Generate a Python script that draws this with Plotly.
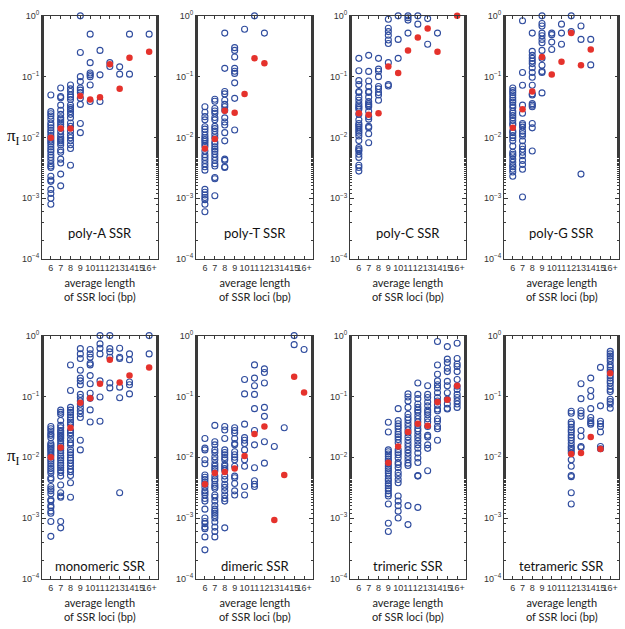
import plotly.graph_objects as go

# ---------------- data (pi values per average length category; 16 = "16+") ----------------
CATEGORIES = [6, 7, 8, 9, 10, 11, 12, 13, 14, 15, 16]
TICK_LABELS = ["6", "7", "8", "9", "10", "11", "12", "13", "14", "15", "16+"]
Y_TICKS = [1e-4, 1e-3, 1e-2, 1e-1, 1]
Y_TICK_LABELS = ["10<sup>−4</sup>", "10<sup>−3</sup>", "10<sup>−2</sup>", "10<sup>−1</sup>", "10<sup>0</sup>"]
PANEL_NAMES = ["poly-A SSR", "poly-T SSR", "poly-C SSR", "poly-G SSR",
               "monomeric SSR", "dimeric SSR", "trimeric SSR", "tetrameric SSR"]

POLY_A = {
    6: [0.05, 0.0266, 0.0245, 0.0226, 0.02, 0.0173, 0.0159, 0.0144, 0.013, 0.0119, 0.0108, 0.0099, 0.0091,
        0.0084, 0.0078, 0.007, 0.0063, 0.0058, 0.0052, 0.0047, 0.0042, 0.0037, 0.0034, 0.0032, 0.0023, 0.002,
        0.0019, 0.0014, 0.0012, 0.001, 0.0008],
    7: [0.065, 0.047, 0.045, 0.034, 0.028, 0.024, 0.021, 0.0195, 0.018, 0.0165, 0.015, 0.0127, 0.0112, 0.0101,
        0.0094, 0.0088, 0.0082, 0.0075, 0.0062, 0.0057, 0.0044, 0.0038, 0.0025, 0.0016],
    8: [0.073, 0.063, 0.057, 0.05, 0.046, 0.042, 0.034, 0.031, 0.029, 0.0266, 0.024, 0.021, 0.0173, 0.0152,
        0.0127, 0.011, 0.0099, 0.0088, 0.0076, 0.0066, 0.0035],
    9: [1.0, 0.25, 0.1, 0.083, 0.065, 0.06, 0.055, 0.044, 0.035, 0.017, 0.012],
    10: [0.5, 0.17, 0.115, 0.107, 0.1, 0.073, 0.039],
    11: [0.27, 0.107, 0.039],
    12: [0.17, 0.147],
    13: [0.145, 0.11],
    14: [0.5, 0.11],
    16: [0.5],
}
POLY_A_MEAN = {6: 0.0099, 7: 0.014, 8: 0.014, 9: 0.048, 10: 0.042, 11: 0.046, 12: 0.16, 13: 0.063, 14: 0.205, 16: 0.256}

POLY_T = {
    6: [0.032, 0.026, 0.022, 0.0195, 0.015, 0.0137, 0.0123, 0.0109, 0.0099, 0.0092, 0.0086, 0.0079, 0.0072,
        0.006, 0.0052, 0.0047, 0.0042, 0.0037, 0.0033, 0.0029, 0.0014, 0.00126, 0.00113, 0.00103, 0.00095,
        0.0008, 0.0006],
    7: [0.0426, 0.0395, 0.03, 0.0272, 0.025, 0.0213, 0.0195, 0.0152, 0.014, 0.0127, 0.0112, 0.0099, 0.0084,
        0.0078, 0.007, 0.0064, 0.0059, 0.0053, 0.0047, 0.0042, 0.0037, 0.0034, 0.0022, 0.0021, 0.0011],
    8: [0.52, 0.137, 0.057, 0.052, 0.041, 0.035, 0.032, 0.028, 0.021, 0.018, 0.016, 0.012, 0.0088, 0.0044,
        0.0042, 0.0033, 0.0032],
    9: [0.3, 0.27, 0.21, 0.137, 0.123, 0.113, 0.079, 0.044, 0.0133],
    10: [0.6],
    11: [1.0],
    12: [0.52],
}
POLY_T_MEAN = {6: 0.0066, 7: 0.0094, 8: 0.0276, 9: 0.0256, 10: 0.052, 11: 0.2, 12: 0.166}

POLY_C = {
    6: [0.2, 0.125, 0.086, 0.074, 0.057, 0.055, 0.046, 0.041, 0.036, 0.033, 0.031, 0.029, 0.024, 0.0195,
        0.017, 0.0159, 0.0148, 0.0137, 0.0127, 0.0117, 0.0106, 0.0089, 0.0068, 0.0063, 0.006, 0.0053, 0.0047,
        0.0035, 0.0032, 0.0028],
    7: [0.224, 0.122, 0.085, 0.069, 0.057, 0.055, 0.046, 0.039, 0.036, 0.034, 0.032, 0.027, 0.022, 0.02,
        0.0152, 0.0145, 0.0115, 0.0082],
    8: [0.2, 0.133, 0.123, 0.1, 0.069, 0.063, 0.055, 0.05, 0.041],
    9: [0.88, 0.625, 0.55, 0.48, 0.4, 0.35, 0.17, 0.074, 0.07],
    10: [1.0, 0.41, 0.2],
    11: [1.0, 0.93, 0.85, 0.52],
    12: [1.0, 0.73],
    13: [0.9, 0.34],
    14: [0.52],
}
POLY_C_MEAN = {6: 0.025, 7: 0.0237, 8: 0.025, 9: 0.147, 10: 0.115, 11: 0.27, 12: 0.44, 13: 0.62, 14: 0.256, 16: 1.0}

POLY_G = {
    6: [0.065, 0.059, 0.055, 0.05, 0.045, 0.041, 0.038, 0.034, 0.031, 0.027, 0.025, 0.023, 0.021, 0.019,
        0.017, 0.016, 0.0127, 0.012, 0.0108, 0.0099, 0.0088, 0.0072, 0.0057, 0.0053, 0.005, 0.0044, 0.0039,
        0.0035, 0.0033, 0.003, 0.0027, 0.0023],
    7: [0.83, 0.117, 0.072, 0.034, 0.025, 0.017, 0.016, 0.0148, 0.0127, 0.0115, 0.0106, 0.0088, 0.0072,
        0.0064, 0.0057, 0.005, 0.0042, 0.0036, 0.003, 0.00105],
    8: [0.52, 0.26, 0.224, 0.2, 0.18, 0.164, 0.14, 0.117, 0.098, 0.072, 0.052, 0.05, 0.036, 0.034, 0.032,
        0.017, 0.0144, 0.006],
    9: [1.0, 0.75, 0.68, 0.52, 0.47, 0.41, 0.36, 0.27, 0.2, 0.154, 0.122, 0.117, 0.054],
    10: [0.52, 0.49, 0.37, 0.28],
    11: [0.73, 0.52, 0.34],
    12: [1.0, 0.55],
    13: [0.68, 0.41, 0.0025],
    14: [0.41, 0.156],
}
POLY_G_MEAN = {6: 0.0144, 7: 0.029, 8: 0.057, 9: 0.21, 10: 0.108, 11: 0.175, 12: 0.52, 13: 0.154, 14: 0.28}

MONOMERIC = {
    6: [0.032, 0.0294, 0.027, 0.0243, 0.0229, 0.021, 0.0168, 0.0159, 0.015, 0.0141, 0.0132, 0.0123, 0.0113,
        0.0105, 0.0093, 0.0086, 0.0078, 0.0071, 0.0065, 0.006, 0.0055, 0.0046, 0.0043, 0.0033, 0.003, 0.0028,
        0.0025, 0.002, 0.0019, 0.0016, 0.0015, 0.0013, 0.0012, 0.00088, 0.0005],
    7: [0.0595, 0.0547, 0.051, 0.0401, 0.0334, 0.0305, 0.0276, 0.026, 0.0243, 0.0229, 0.0216, 0.0203, 0.0186,
        0.0168, 0.0153, 0.0141, 0.0129, 0.0117, 0.0105, 0.0097, 0.0089, 0.008, 0.0073, 0.0067, 0.0061, 0.0056,
        0.0049, 0.0035, 0.0026, 0.0023, 0.0022, 0.00088, 0.00069],
    8: [0.328, 0.125, 0.066, 0.0595, 0.0547, 0.05, 0.045, 0.041, 0.0376, 0.0345, 0.0276, 0.0252, 0.0229,
        0.0196, 0.0172, 0.0159, 0.0132, 0.012, 0.011, 0.0097, 0.0089, 0.008, 0.0071, 0.0063, 0.0058, 0.005,
        0.0038, 0.0022],
    9: [0.61, 0.5, 0.42, 0.27, 0.2, 0.18, 0.156, 0.108, 0.096, 0.084, 0.075, 0.066, 0.058, 0.052, 0.045,
        0.019, 0.0132],
    10: [0.59, 0.5, 0.44, 0.35, 0.33, 0.22, 0.162, 0.113, 0.093, 0.06, 0.038],
    11: [1.0, 0.73, 0.62, 0.5, 0.18, 0.098, 0.039],
    12: [1.0, 0.61, 0.54, 0.44, 0.166, 0.138],
    13: [0.62, 0.44, 0.42, 0.142, 0.095, 0.0026],
    14: [0.5, 0.4, 0.173, 0.156, 0.11],
    16: [1.0, 0.5],
}
MONOMERIC_MEAN = {6: 0.01, 7: 0.0145, 8: 0.0305, 9: 0.079, 10: 0.093, 11: 0.162, 12: 0.4, 13: 0.17, 14: 0.22, 16: 0.3}

DIMERIC = {
    6: [0.0203, 0.0141, 0.0132, 0.0091, 0.0078, 0.0051, 0.0047, 0.0043, 0.0039, 0.0036, 0.0032, 0.0028,
        0.0026, 0.0024, 0.0021, 0.0019, 0.0014, 0.001, 0.00088, 0.00081, 0.00071, 0.00067, 0.00049, 0.0003],
    7: [0.0334, 0.018, 0.016, 0.0132, 0.012, 0.0102, 0.0091, 0.0078, 0.0071, 0.0065, 0.006, 0.0049, 0.0044,
        0.0041, 0.0036, 0.0033, 0.0031, 0.0024, 0.0022, 0.0019, 0.0016, 0.0014, 0.0013, 0.0012, 0.0011, 0.001,
        0.00086, 0.00071, 0.0006, 0.00049],
    8: [0.032, 0.028, 0.0203, 0.0132, 0.012, 0.011, 0.0099, 0.0091, 0.0076, 0.0071, 0.0065, 0.0061, 0.0049,
        0.0043, 0.0036, 0.0032, 0.0028, 0.0024, 0.0021, 0.0019, 0.00069],
    9: [0.0305, 0.0276, 0.025, 0.0203, 0.0168, 0.016, 0.0123, 0.011, 0.01, 0.0091, 0.0071, 0.0049, 0.0046,
        0.0037, 0.0028, 0.0024],
    10: [0.19, 0.11, 0.035, 0.021, 0.019, 0.0168, 0.0132, 0.0091, 0.0071, 0.0033, 0.0024],
    11: [0.33, 0.2, 0.15, 0.108, 0.063, 0.0276, 0.016, 0.0067, 0.0041, 0.0036, 0.0033],
    12: [0.284, 0.247, 0.166, 0.066, 0.047, 0.018, 0.008],
    13: [0.015],
    14: [0.0305],
    15: [1.0, 0.71],
    16: [0.59],
}
DIMERIC_MEAN = {6: 0.0036, 7: 0.0055, 8: 0.0057, 9: 0.0065, 10: 0.0105, 11: 0.024, 12: 0.032, 13: 0.00093,
                14: 0.0051, 15: 0.21, 16: 0.116}

TRIMERIC = {
    9: [0.0376, 0.026, 0.0132, 0.0123, 0.0113, 0.0103, 0.0093, 0.0086, 0.0078, 0.0071, 0.0065, 0.006, 0.0055,
        0.0049, 0.0044, 0.0041, 0.0037, 0.0034, 0.0031, 0.0028, 0.0025, 0.0023, 0.0017, 0.00082, 0.0006],
    10: [0.063, 0.04, 0.0355, 0.0322, 0.0294, 0.026, 0.0236, 0.0216, 0.0195, 0.0173, 0.0132, 0.012, 0.011,
         0.0097, 0.0082, 0.0076, 0.0067, 0.0056, 0.005, 0.0043, 0.0038, 0.0023, 0.0019, 0.0016, 0.0013, 0.001],
    11: [0.11, 0.098, 0.084, 0.066, 0.051, 0.045, 0.041, 0.036, 0.032, 0.028, 0.025, 0.0216, 0.019, 0.0168,
         0.015, 0.0132, 0.0117, 0.0103, 0.0091, 0.008, 0.0073, 0.0016, 0.00078],
    12: [0.166, 0.108, 0.092, 0.075, 0.066, 0.0595, 0.0547, 0.048, 0.043, 0.038, 0.0334, 0.0294, 0.027,
         0.0236, 0.021, 0.0185, 0.016, 0.0141, 0.0117, 0.0097, 0.0082, 0.005, 0.0049, 0.0015],
    13: [0.15, 0.108, 0.096, 0.081, 0.07, 0.0595, 0.0547, 0.05, 0.043, 0.038, 0.032, 0.0229, 0.0216, 0.016,
         0.014, 0.006],
    14: [0.8, 0.328, 0.232, 0.18, 0.156, 0.138, 0.115, 0.096, 0.084, 0.072, 0.062, 0.058, 0.043, 0.039, 0.032,
         0.0294, 0.019],
    15: [0.66, 0.41, 0.36, 0.29, 0.256, 0.177, 0.15, 0.115, 0.09, 0.075, 0.064, 0.062],
    16: [0.75, 0.42, 0.34, 0.31, 0.256, 0.19, 0.147, 0.13, 0.108, 0.096, 0.084, 0.075, 0.066],
}
TRIMERIC_MEAN = {9: 0.0081, 10: 0.015, 11: 0.026, 12: 0.0355, 13: 0.033, 14: 0.081, 15: 0.088, 16: 0.15}

TETRAMERIC = {
    12: [0.057, 0.053, 0.038, 0.035, 0.031, 0.028, 0.026, 0.023, 0.021, 0.019, 0.0168, 0.015, 0.014, 0.0129,
         0.0117, 0.0091, 0.0071, 0.005, 0.0048, 0.0026, 0.0017],
    13: [0.162, 0.092, 0.058, 0.053, 0.047, 0.0276, 0.0222, 0.015, 0.0144],
    14: [0.2, 0.125, 0.1, 0.063, 0.045, 0.04, 0.037, 0.035],
    15: [0.3, 0.07, 0.039, 0.0355, 0.032, 0.026, 0.015, 0.0138],
    16: [0.55, 0.5, 0.46, 0.42, 0.38, 0.33, 0.3, 0.27, 0.25, 0.22, 0.2, 0.18, 0.166, 0.147, 0.13, 0.12, 0.09,
         0.082, 0.075, 0.064],
}
TETRAMERIC_MEAN = {12: 0.0113, 13: 0.0117, 14: 0.0216, 15: 0.0137, 16: 0.24}

PANELS = [(POLY_A, POLY_A_MEAN), (POLY_T, POLY_T_MEAN), (POLY_C, POLY_C_MEAN), (POLY_G, POLY_G_MEAN),
          (MONOMERIC, MONOMERIC_MEAN), (DIMERIC, DIMERIC_MEAN), (TRIMERIC, TRIMERIC_MEAN),
          (TETRAMERIC, TETRAMERIC_MEAN)]

# ---------------- layout geometry (window pixels; body margin removed by post_script) ----------------
W, H = 625, 629
COL_PX = [(42, 158), (196, 313), (350, 466), (504, 619)]
ROW_PX = [(9, 257), (335, 583)]
LABEL_Y_PX = [230, 570]


def px_x(p):
    return p / W


def px_y(p):
    return 1 - p / H


BLUE = "#2f4c9e"
RED = "#e5322c"
AXIS_COL = "#3a3a3a"
TICK_FONT = dict(family="Liberation Sans, Arial, sans-serif", size=9, color="#333333")
TEXT_FONT = "Lato, Open Sans, sans-serif"

fig = go.Figure()
layout = dict(width=W, height=H, margin=dict(l=0, r=0, t=0, b=0),
              plot_bgcolor="white", paper_bgcolor="white", showlegend=False)
annotations = []

for i, (pts, means) in enumerate(PANELS):
    r, c = divmod(i, 4)
    n = i + 1
    xa = "x" if n == 1 else f"x{n}"
    ya = "y" if n == 1 else f"y{n}"
    x0, x1 = COL_PX[c]
    y0, y1 = ROW_PX[r]
    xs, ys = [], []
    for k, vals in pts.items():
        xs += [k] * len(vals)
        ys += vals
    fig.add_trace(go.Scatter(x=xs, y=ys, mode="markers", xaxis=xa, yaxis=ya, cliponaxis=False,
                             marker=dict(symbol="circle-open", size=6, color=BLUE, line=dict(width=1.1, color=BLUE))))
    fig.add_trace(go.Scatter(x=list(means.keys()), y=list(means.values()), mode="markers", xaxis=xa, yaxis=ya,
                             cliponaxis=False, marker=dict(symbol="circle", size=6.5, color=RED, line=dict(width=0))))
    layout["xaxis" if n == 1 else f"xaxis{n}"] = dict(
        domain=[px_x(x0), min(1.0, px_x(x1))], anchor=ya, range=[5.1, 16.9],
        tickmode="array", tickvals=CATEGORIES, ticktext=TICK_LABELS, tickangle=0,
        ticks="inside", ticklen=3, tickcolor=AXIS_COL, tickfont=TICK_FONT,
        showline=True, linecolor=AXIS_COL, linewidth=1, mirror="ticks",
        showgrid=False, zeroline=False)
    layout["yaxis" if n == 1 else f"yaxis{n}"] = dict(
        domain=[px_y(y1), px_y(y0)], anchor=xa, type="log", range=[-4, 0],
        tickmode="array", tickvals=Y_TICKS, ticktext=Y_TICK_LABELS,
        ticks="inside", ticklen=4, tickcolor=AXIS_COL, tickfont=TICK_FONT,
        minor=dict(ticks="inside", ticklen=2, tickcolor=AXIS_COL, showgrid=False),
        showline=True, linecolor=AXIS_COL, linewidth=1, mirror="ticks",
        showgrid=False, zeroline=False)
    cx = px_x((x0 + x1) / 2)
    annotations.append(dict(text=PANEL_NAMES[i], x=cx, y=px_y(LABEL_Y_PX[r]), xref="paper", yref="paper",
                            showarrow=False, xanchor="center", yanchor="middle",
                            font=dict(family=TEXT_FONT, size=13, color="#111111")))
    annotations.append(dict(text="average length<br>of SSR loci (bp)", x=cx, y=px_y(y1 + 31),
                            xref="paper", yref="paper", showarrow=False, xanchor="center", yanchor="middle",
                            font=dict(family=TEXT_FONT, size=11, color="#222222")))

for r in range(2):
    annotations.append(dict(text="π<sub>I</sub>", x=px_x(13), y=px_y(sum(ROW_PX[r]) / 2),
                            xref="paper", yref="paper", showarrow=False, xanchor="center", yanchor="middle",
                            font=dict(family="Liberation Serif, serif", size=17, color="#111111")))

layout["annotations"] = annotations
fig.update_layout(**layout)
fig.write_html("out.html", config={"displayModeBar": False},
               post_script="document.body.style.margin='0';document.body.style.overflow='hidden';")
